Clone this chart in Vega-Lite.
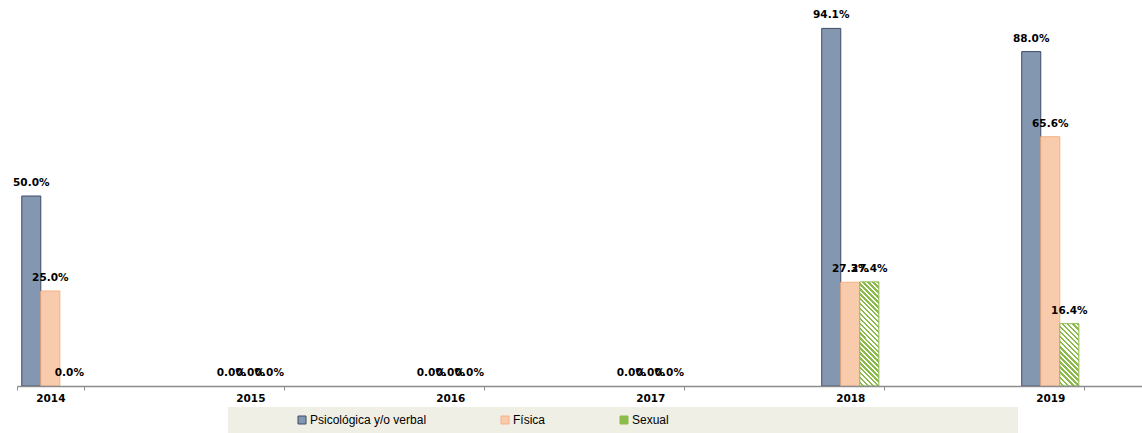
{
  "$schema": "https://vega.github.io/schema/vega-lite/v6.json",
  "width": 1125,
  "height": 380,
  "autosize": "none",
  "padding": {"left": 17, "top": 6, "right": 0, "bottom": 47},
  "background": "white",
  "config": {"view": {"stroke": null}},
  "data": {
    "values": [
      {"anio": "2014", "tipo": "Psicológica y/o verbal", "valor": 0.5},
      {"anio": "2014", "tipo": "Física", "valor": 0.25},
      {"anio": "2014", "tipo": "Sexual", "valor": 0.0},
      {"anio": "2015", "tipo": "Psicológica y/o verbal", "valor": 0.0},
      {"anio": "2015", "tipo": "Física", "valor": 0.0},
      {"anio": "2015", "tipo": "Sexual", "valor": 0.0},
      {"anio": "2016", "tipo": "Psicológica y/o verbal", "valor": 0.0},
      {"anio": "2016", "tipo": "Física", "valor": 0.0},
      {"anio": "2016", "tipo": "Sexual", "valor": 0.0},
      {"anio": "2017", "tipo": "Psicológica y/o verbal", "valor": 0.0},
      {"anio": "2017", "tipo": "Física", "valor": 0.0},
      {"anio": "2017", "tipo": "Sexual", "valor": 0.0},
      {"anio": "2018", "tipo": "Psicológica y/o verbal", "valor": 0.941},
      {"anio": "2018", "tipo": "Física", "valor": 0.273},
      {"anio": "2018", "tipo": "Sexual", "valor": 0.274},
      {"anio": "2019", "tipo": "Psicológica y/o verbal", "valor": 0.88},
      {"anio": "2019", "tipo": "Física", "valor": 0.656},
      {"anio": "2019", "tipo": "Sexual", "valor": 0.164}
    ]
  },
  "encoding": {
    "x": {
      "field": "anio",
      "type": "nominal",
      "scale": {"paddingInner": 0.6667, "paddingOuter": 0.146, "align": 0},
      "axis": {
        "title": null,
        "labelAngle": 0,
        "labelFont": "DejaVu Sans",
        "labelFontWeight": "bold",
        "labelFontSize": 10.5,
        "labelColor": "#000000",
        "domainColor": "#8c8c8c",
        "domainWidth": 1.5,
        "tickColor": "#8c8c8c",
        "tickSize": 4,
        "tickBand": "extent",
        "labelPadding": 3,
        "zindex": 1
      }
    },
    "xOffset": {
      "field": "tipo",
      "type": "nominal",
      "scale": {"domain": ["Psicológica y/o verbal", "Física", "Sexual"], "paddingInner": 0, "paddingOuter": 0.25}
    },
    "y": {
      "field": "valor",
      "type": "quantitative",
      "scale": {"domain": [0, 1]},
      "axis": null
    }
  },
  "layer": [
    {
      "mark": {"type": "bar", "strokeWidth": 1},
      "encoding": {
        "strokeOpacity": {"condition": {"test": "datum.valor === 0", "value": 0}, "value": 1},
        "color": {
          "field": "tipo",
          "type": "nominal",
          "scale": {"domain": ["Psicológica y/o verbal", "Física", "Sexual"], "range": ["#8497b0", "#f8cbad", "#8cbb4c"]},
          "condition": [
            {
              "test": "datum.tipo === 'Sexual' && datum.anio === '2018'",
              "value": {
                "gradient": "linear", "x1": 1, "y1": 0, "x2": 0.79, "y2": 1.145,
                "stops": [
                  {"offset": 0, "color": "#8cbb4c"}, {"offset": 0.02, "color": "#8cbb4c"}, {"offset": 0.02, "color": "#ffffff"}, {"offset": 0.04, "color": "#ffffff"},
                  {"offset": 0.04, "color": "#8cbb4c"}, {"offset": 0.06, "color": "#8cbb4c"}, {"offset": 0.06, "color": "#ffffff"}, {"offset": 0.08, "color": "#ffffff"},
                  {"offset": 0.08, "color": "#8cbb4c"}, {"offset": 0.10, "color": "#8cbb4c"}, {"offset": 0.10, "color": "#ffffff"}, {"offset": 0.12, "color": "#ffffff"},
                  {"offset": 0.12, "color": "#8cbb4c"}, {"offset": 0.14, "color": "#8cbb4c"}, {"offset": 0.14, "color": "#ffffff"}, {"offset": 0.16, "color": "#ffffff"},
                  {"offset": 0.16, "color": "#8cbb4c"}, {"offset": 0.18, "color": "#8cbb4c"}, {"offset": 0.18, "color": "#ffffff"}, {"offset": 0.20, "color": "#ffffff"},
                  {"offset": 0.20, "color": "#8cbb4c"}, {"offset": 0.22, "color": "#8cbb4c"}, {"offset": 0.22, "color": "#ffffff"}, {"offset": 0.24, "color": "#ffffff"},
                  {"offset": 0.24, "color": "#8cbb4c"}, {"offset": 0.26, "color": "#8cbb4c"}, {"offset": 0.26, "color": "#ffffff"}, {"offset": 0.28, "color": "#ffffff"},
                  {"offset": 0.28, "color": "#8cbb4c"}, {"offset": 0.30, "color": "#8cbb4c"}, {"offset": 0.30, "color": "#ffffff"}, {"offset": 0.32, "color": "#ffffff"},
                  {"offset": 0.32, "color": "#8cbb4c"}, {"offset": 0.34, "color": "#8cbb4c"}, {"offset": 0.34, "color": "#ffffff"}, {"offset": 0.36, "color": "#ffffff"},
                  {"offset": 0.36, "color": "#8cbb4c"}, {"offset": 0.38, "color": "#8cbb4c"}, {"offset": 0.38, "color": "#ffffff"}, {"offset": 0.40, "color": "#ffffff"},
                  {"offset": 0.40, "color": "#8cbb4c"}, {"offset": 0.42, "color": "#8cbb4c"}, {"offset": 0.42, "color": "#ffffff"}, {"offset": 0.44, "color": "#ffffff"},
                  {"offset": 0.44, "color": "#8cbb4c"}, {"offset": 0.46, "color": "#8cbb4c"}, {"offset": 0.46, "color": "#ffffff"}, {"offset": 0.48, "color": "#ffffff"},
                  {"offset": 0.48, "color": "#8cbb4c"}, {"offset": 0.50, "color": "#8cbb4c"}, {"offset": 0.50, "color": "#ffffff"}, {"offset": 0.52, "color": "#ffffff"},
                  {"offset": 0.52, "color": "#8cbb4c"}, {"offset": 0.54, "color": "#8cbb4c"}, {"offset": 0.54, "color": "#ffffff"}, {"offset": 0.56, "color": "#ffffff"},
                  {"offset": 0.56, "color": "#8cbb4c"}, {"offset": 0.58, "color": "#8cbb4c"}, {"offset": 0.58, "color": "#ffffff"}, {"offset": 0.60, "color": "#ffffff"},
                  {"offset": 0.60, "color": "#8cbb4c"}, {"offset": 0.62, "color": "#8cbb4c"}, {"offset": 0.62, "color": "#ffffff"}, {"offset": 0.64, "color": "#ffffff"},
                  {"offset": 0.64, "color": "#8cbb4c"}, {"offset": 0.66, "color": "#8cbb4c"}, {"offset": 0.66, "color": "#ffffff"}, {"offset": 0.68, "color": "#ffffff"},
                  {"offset": 0.68, "color": "#8cbb4c"}, {"offset": 0.70, "color": "#8cbb4c"}, {"offset": 0.70, "color": "#ffffff"}, {"offset": 0.72, "color": "#ffffff"},
                  {"offset": 0.72, "color": "#8cbb4c"}, {"offset": 0.74, "color": "#8cbb4c"}, {"offset": 0.74, "color": "#ffffff"}, {"offset": 0.76, "color": "#ffffff"},
                  {"offset": 0.76, "color": "#8cbb4c"}, {"offset": 0.78, "color": "#8cbb4c"}, {"offset": 0.78, "color": "#ffffff"}, {"offset": 0.80, "color": "#ffffff"},
                  {"offset": 0.80, "color": "#8cbb4c"}, {"offset": 0.82, "color": "#8cbb4c"}, {"offset": 0.82, "color": "#ffffff"}, {"offset": 0.84, "color": "#ffffff"},
                  {"offset": 0.84, "color": "#8cbb4c"}, {"offset": 0.86, "color": "#8cbb4c"}, {"offset": 0.86, "color": "#ffffff"}, {"offset": 0.88, "color": "#ffffff"},
                  {"offset": 0.88, "color": "#8cbb4c"}, {"offset": 0.90, "color": "#8cbb4c"}, {"offset": 0.90, "color": "#ffffff"}, {"offset": 0.92, "color": "#ffffff"},
                  {"offset": 0.92, "color": "#8cbb4c"}, {"offset": 0.94, "color": "#8cbb4c"}, {"offset": 0.94, "color": "#ffffff"}, {"offset": 0.96, "color": "#ffffff"},
                  {"offset": 0.96, "color": "#8cbb4c"}, {"offset": 0.98, "color": "#8cbb4c"}, {"offset": 0.98, "color": "#ffffff"}, {"offset": 1, "color": "#ffffff"}
                ]
              }
            },
            {
              "test": "datum.tipo === 'Sexual' && datum.anio === '2019'",
              "value": {
                "gradient": "linear", "x1": 1, "y1": 0, "x2": 0.635, "y2": 1.194,
                "stops": [
                  {"offset": 0, "color": "#8cbb4c"}, {"offset": 0.03125, "color": "#8cbb4c"}, {"offset": 0.03125, "color": "#ffffff"}, {"offset": 0.0625, "color": "#ffffff"},
                  {"offset": 0.0625, "color": "#8cbb4c"}, {"offset": 0.09375, "color": "#8cbb4c"}, {"offset": 0.09375, "color": "#ffffff"}, {"offset": 0.125, "color": "#ffffff"},
                  {"offset": 0.125, "color": "#8cbb4c"}, {"offset": 0.15625, "color": "#8cbb4c"}, {"offset": 0.15625, "color": "#ffffff"}, {"offset": 0.1875, "color": "#ffffff"},
                  {"offset": 0.1875, "color": "#8cbb4c"}, {"offset": 0.21875, "color": "#8cbb4c"}, {"offset": 0.21875, "color": "#ffffff"}, {"offset": 0.25, "color": "#ffffff"},
                  {"offset": 0.25, "color": "#8cbb4c"}, {"offset": 0.28125, "color": "#8cbb4c"}, {"offset": 0.28125, "color": "#ffffff"}, {"offset": 0.3125, "color": "#ffffff"},
                  {"offset": 0.3125, "color": "#8cbb4c"}, {"offset": 0.34375, "color": "#8cbb4c"}, {"offset": 0.34375, "color": "#ffffff"}, {"offset": 0.375, "color": "#ffffff"},
                  {"offset": 0.375, "color": "#8cbb4c"}, {"offset": 0.40625, "color": "#8cbb4c"}, {"offset": 0.40625, "color": "#ffffff"}, {"offset": 0.4375, "color": "#ffffff"},
                  {"offset": 0.4375, "color": "#8cbb4c"}, {"offset": 0.46875, "color": "#8cbb4c"}, {"offset": 0.46875, "color": "#ffffff"}, {"offset": 0.5, "color": "#ffffff"},
                  {"offset": 0.5, "color": "#8cbb4c"}, {"offset": 0.53125, "color": "#8cbb4c"}, {"offset": 0.53125, "color": "#ffffff"}, {"offset": 0.5625, "color": "#ffffff"},
                  {"offset": 0.5625, "color": "#8cbb4c"}, {"offset": 0.59375, "color": "#8cbb4c"}, {"offset": 0.59375, "color": "#ffffff"}, {"offset": 0.625, "color": "#ffffff"},
                  {"offset": 0.625, "color": "#8cbb4c"}, {"offset": 0.65625, "color": "#8cbb4c"}, {"offset": 0.65625, "color": "#ffffff"}, {"offset": 0.6875, "color": "#ffffff"},
                  {"offset": 0.6875, "color": "#8cbb4c"}, {"offset": 0.71875, "color": "#8cbb4c"}, {"offset": 0.71875, "color": "#ffffff"}, {"offset": 0.75, "color": "#ffffff"},
                  {"offset": 0.75, "color": "#8cbb4c"}, {"offset": 0.78125, "color": "#8cbb4c"}, {"offset": 0.78125, "color": "#ffffff"}, {"offset": 0.8125, "color": "#ffffff"},
                  {"offset": 0.8125, "color": "#8cbb4c"}, {"offset": 0.84375, "color": "#8cbb4c"}, {"offset": 0.84375, "color": "#ffffff"}, {"offset": 0.875, "color": "#ffffff"},
                  {"offset": 0.875, "color": "#8cbb4c"}, {"offset": 0.90625, "color": "#8cbb4c"}, {"offset": 0.90625, "color": "#ffffff"}, {"offset": 0.9375, "color": "#ffffff"},
                  {"offset": 0.9375, "color": "#8cbb4c"}, {"offset": 0.96875, "color": "#8cbb4c"}, {"offset": 0.96875, "color": "#ffffff"}, {"offset": 1, "color": "#ffffff"}
                ]
              }
            }
          ],
          "legend": {
            "orient": "none",
            "legendX": 211,
            "legendY": 401,
            "direction": "horizontal",
            "title": "\u2800\u2800\u2800\u2800\u2800\u2800",
            "titleOrient": "left",
            "titlePadding": 0,
            "titleFont": "DejaVu Sans",
            "titleFontSize": 13,
            "fillColor": "#efefe6",
            "padding": 7,
            "symbolType": "square",
            "symbolSize": 64,
            "symbolStrokeWidth": 1,
            "labelFont": "Liberation Sans",
            "labelFontSize": 12,
            "labelColor": "#000000",
            "labelOffset": 2,
            "columnPadding": 72,
            "labelLimit": 600,
            "labelExpr": "datum.label === 'Sexual' ? pad(datum.label, 44, '\u2800') : datum.label"
          }
        },
        "stroke": {
          "field": "tipo",
          "type": "nominal",
          "scale": {"domain": ["Psicológica y/o verbal", "Física", "Sexual"], "range": ["#3c4a66", "#f4b183", "#8cbb4c"]}
        }
      }
    },
    {
      "mark": {"type": "text", "font": "DejaVu Sans", "fontWeight": "bold", "fontSize": 10.5, "dy": -13, "baseline": "middle", "color": "#000000"},
      "encoding": {
        "text": {"field": "valor", "type": "quantitative", "format": ".1%"}
      }
    }
  ]
}
